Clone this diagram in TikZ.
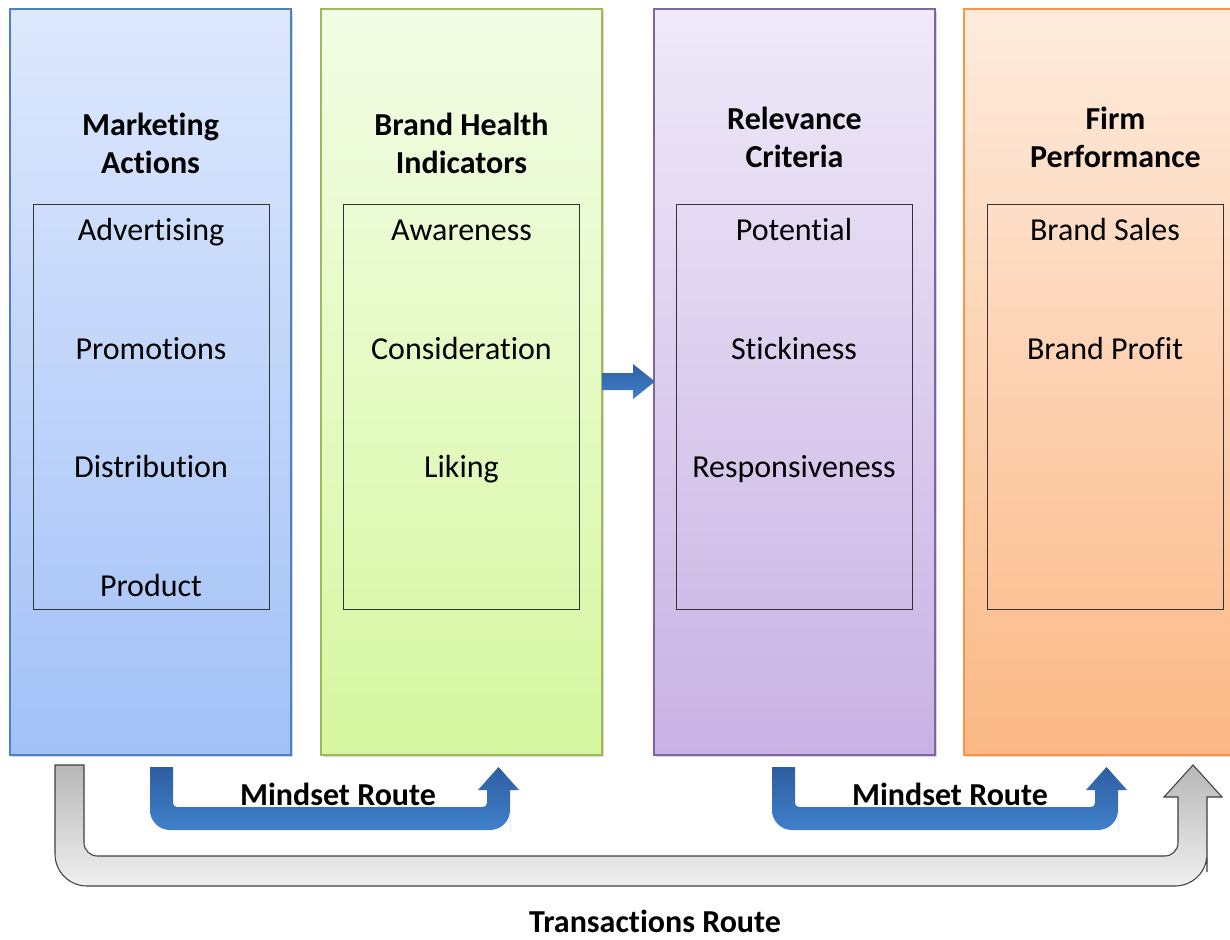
\documentclass[tikz,border=0pt]{standalone}
\usepackage{fontspec}
\setmainfont{Carlito}[Ligatures=NoCommon]
\usetikzlibrary{shadows}

\definecolor{maedge}{RGB}{79,129,189}
\definecolor{matop}{RGB}{222,232,253}
\definecolor{mabot}{RGB}{162,193,247}
\definecolor{bhedge}{RGB}{155,187,89}
\definecolor{bhtop}{RGB}{243,253,230}
\definecolor{bhbot}{RGB}{214,247,160}
\definecolor{rcedge}{RGB}{128,100,162}
\definecolor{rctop}{RGB}{239,233,248}
\definecolor{rcbot}{RGB}{200,178,228}
\definecolor{fpedge}{RGB}{247,150,70}
\definecolor{fptop}{RGB}{254,235,221}
\definecolor{fpbot}{RGB}{251,184,133}
\definecolor{routetop}{RGB}{46,94,160}
\definecolor{routebot}{RGB}{64,128,204}

\tikzset{
  column/.style={draw, line width=1.5pt, minimum width=210.75pt,
    minimum height=559.5pt, inner sep=0pt,
    drop shadow={opacity=0.3, shadow xshift=1.2pt, shadow yshift=-1.2pt}},
  list/.style={draw=black!80, line width=0.6pt, minimum width=177pt,
    minimum height=303.75pt, inner sep=0pt},
  heading/.style={font=\fontsize{24}{28.5}\selectfont\bfseries, align=center},
  item/.style={font=\fontsize{24}{28.5}\selectfont, anchor=base, inner sep=0pt},
  route/.style={top color=routetop, bottom color=routebot},
}

\begin{document}
\begin{tikzpicture}[x=0.75pt, y=-0.75pt]
  \fill[white] (0,0) rectangle (1230,939);
  \useasboundingbox (0,0) rectangle (1230,939);

  % the four columns
  \node[column, draw=maedge, top color=matop, bottom color=mabot] (ma) at (150.5,382) {};
  \node[column, draw=bhedge, top color=bhtop, bottom color=bhbot] (bh) at (461.5,382) {};
  \node[column, draw=rcedge, top color=rctop, bottom color=rcbot] (rc) at (794.5,382) {};
  \node[column, draw=fpedge, top color=fptop, bottom color=fpbot] (fp) at (1104.5,382) {};

  \node[heading] (ma-title) at (150.5,143) {Marketing\\Actions};
  \node[heading] (bh-title) at (461.5,143) {Brand Health\\Indicators};
  \node[heading] (rc-title) at (794.5,137.5) {Relevance\\Criteria};
  \node[heading] (fp-title) at (1115.5,137.5) {Firm\\Performance};

  \node[list] (ma-list) at (151,406.5) {};
  \node[list] (bh-list) at (461.5,406.5) {};
  \node[list] (rc-list) at (794,406.5) {};
  \node[list] (fp-list) at (1105,406.5) {};

  % list entries, placed on their baselines
  \node[item] (advert) at (151,240) {Advertising};
  \node[item] (promo)  at (151,359) {Promotions};
  \node[item] (distr)  at (151,477.5) {Distribution};
  \node[item] (prod)   at (151,596) {Product};

  \node[item] (aware)  at (461.5,240) {Awareness};
  \node[item] (consid) at (461.5,359) {Consideration};
  \node[item] (liking) at (461.5,477.5) {Liking};

  \node[item] (potent) at (794,240) {Potential};
  \node[item] (sticky) at (794,359) {Stickiness};
  \node[item] (respon) at (794,477.5) {Responsiveness};

  \node[item] (sales)  at (1105,240) {Brand Sales};
  \node[item] (profit) at (1105,359) {Brand Profit};

  % block arrow between the middle columns
  \path[route] (602,373) -- (633,373) -- (633,364) -- (655,381.5)
    -- (633,399) -- (633,390) -- (602,390) -- cycle;

  % mindset routes
  \path[route] (150,767) -- (150,800) [rounded corners=15pt] -- (150,830)
    -- (510,830) -- (510,812) [sharp corners] -- (510,790) -- (519,790)
    -- (498.5,767) -- (478,790) -- (487,790) -- (487,798)
    [rounded corners=3pt] -- (487,807) -- (173,807) -- (173,790)
    [sharp corners] -- (173,767) -- cycle;
  \path[route] (772,767) -- (772,800) [rounded corners=15pt] -- (772,830)
    -- (1118,830) -- (1118,812) [sharp corners] -- (1118,790) -- (1127,790)
    -- (1106.5,767) -- (1086,790) -- (1095,790) -- (1095,798)
    [rounded corners=3pt] -- (1095,807) -- (795,807) -- (795,790)
    [sharp corners] -- (795,767) -- cycle;
  \node[heading] (mind1) at (338,794) {Mindset Route};
  \node[heading] (mind2) at (950,794) {Mindset Route};

  % transactions route
  \path[draw=black!75, line width=0.8pt, top color=black!28, bottom color=black!6]
    (55,765) -- (55,820) [rounded corners=24pt] -- (55,886)
    -- (1207,886) -- (1207,840) [sharp corners] -- (1207,797) -- (1222,797)
    -- (1193,765) -- (1164,797) -- (1178,797) -- (1178,830)
    [rounded corners=10pt] -- (1178,856) -- (84,856) -- (84,820)
    [sharp corners] -- (84,765) -- cycle;
  \node[heading] (trans) at (655,921) {Transactions Route};
\end{tikzpicture}
\end{document}
